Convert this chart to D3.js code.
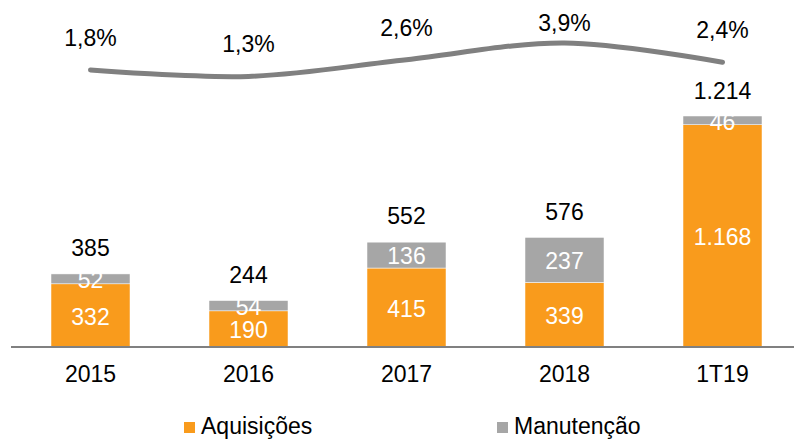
<!DOCTYPE html>
<html>
<head>
<meta charset="utf-8">
<script src="https://cdn.jsdelivr.net/npm/d3@7"></script>
<style>
  body { margin: 0; background: #fff; }
  svg { display: block; font-family: 'Liberation Sans', Arial, sans-serif; }
</style>
</head>
<body>
<svg id="chart"></svg>
<script>
// data
const categories = ['2015', '2016', '2017', '2018', '1T19'];
const aquisicoes = [332, 190, 415, 339, 1168];
const manutencao = [52, 54, 136, 237, 46];
const totals = [385, 244, 552, 576, 1214];
const pct = [1.8, 1.3, 2.6, 3.9, 2.4];
const seriesNames = ['Aquisições', 'Manutenção'];

const W = 794, H = 439;
const orange = '#F99B1C', gray = '#A6A6A6', lineGray = '#808080';
const fs = '23px';
const fmt = v => d3.format(',')(v).replace(/,/g, '.');
const fmtPct = v => d3.format('.1f')(v).replace('.', ',') + '%';

const svg = d3.select('#chart').attr('width', W).attr('height', H);

// scales
const x = d3.scaleBand().domain(categories).range([11.5, 801.5])
  .paddingInner(0.5).paddingOuter(0.25);
const y = d3.scaleLinear().domain([0, 1214]).range([347, 116]);
const y2 = d3.scaleLinear().domain([0, 4]).range([93.1, 41.7]);

const rows = categories.map((c, i) => ({ c, a: aquisicoes[i], m: manutencao[i], t: totals[i], p: pct[i] }));
const stack = d3.stack().keys(['a', 'm'])(rows);
const colors = [orange, gray];

// bars
stack.forEach((layer, li) => {
  const g = svg.append('g');
  g.selectAll('rect')
    .data(layer)
    .enter().append('rect')
    .attr('x', d => x(d.data.c))
    .attr('width', x.bandwidth())
    .attr('y', d => y(d[1]))
    .attr('height', d => y(d[0]) - y(d[1]))
    .style('fill', colors[li])
    .style('stroke', '#fff')
    .style('stroke-width', 0.5);

  g.selectAll('text')
    .data(layer)
    .enter().append('text')
    .attr('x', d => x(d.data.c) + x.bandwidth() / 2)
    .attr('y', d => (y(d[0]) + y(d[1])) / 2)
    .attr('dy', '.4em')
    .attr('text-anchor', 'middle')
    .style('fill', '#fff')
    .style('font-size', fs)
    .text(d => fmt(d[1] - d[0]));
});

// totals
svg.append('g').selectAll('text')
  .data(rows)
  .enter().append('text')
  .attr('x', d => x(d.c) + x.bandwidth() / 2)
  .attr('y', d => y(d.t) - 17.5)
  .attr('text-anchor', 'middle')
  .style('font-size', fs)
  .style('fill', '#000')
  .text(d => fmt(d.t));

// x axis
const xAxis = svg.append('g')
  .attr('transform', 'translate(0,347)')
  .call(d3.axisBottom(x).tickSize(0).tickPadding(19));
xAxis.select('.domain').attr('d', 'M11,0H794').style('stroke', '#808080').style('stroke-width', 2);
xAxis.selectAll('text').style('font-size', fs).style('fill', '#000')
  .style('font-family', "'Liberation Sans', Arial, sans-serif");

// percent line
const line = d3.line()
  .x(d => x(d.c) + x.bandwidth() / 2)
  .y(d => y2(d.p))
  .curve(d3.curveCatmullRom.alpha(0.5));

svg.append('path')
  .datum(rows)
  .attr('d', line)
  .style('fill', 'none')
  .style('stroke', lineGray)
  .style('stroke-width', 5)
  .style('stroke-linecap', 'round');

svg.append('g').selectAll('text')
  .data(rows)
  .enter().append('text')
  .attr('x', d => x(d.c) + x.bandwidth() / 2)
  .attr('y', d => Math.max(y2(d.p) - 24, 31))
  .attr('text-anchor', 'middle')
  .style('font-size', fs)
  .style('fill', '#000')
  .text(d => fmtPct(d.p));

// legend
const legendX = [184, 497];
const legend = svg.selectAll('.legend')
  .data(seriesNames)
  .enter().append('g')
  .attr('class', 'legend')
  .attr('transform', (d, i) => `translate(${legendX[i]}, 422)`);

legend.append('rect')
  .attr('width', 11)
  .attr('height', 11)
  .style('fill', (d, i) => colors[i]);

legend.append('text')
  .attr('x', 17)
  .attr('y', 12)
  .style('font-size', fs)
  .style('fill', '#000')
  .text(d => d);
</script>
</body>
</html>
